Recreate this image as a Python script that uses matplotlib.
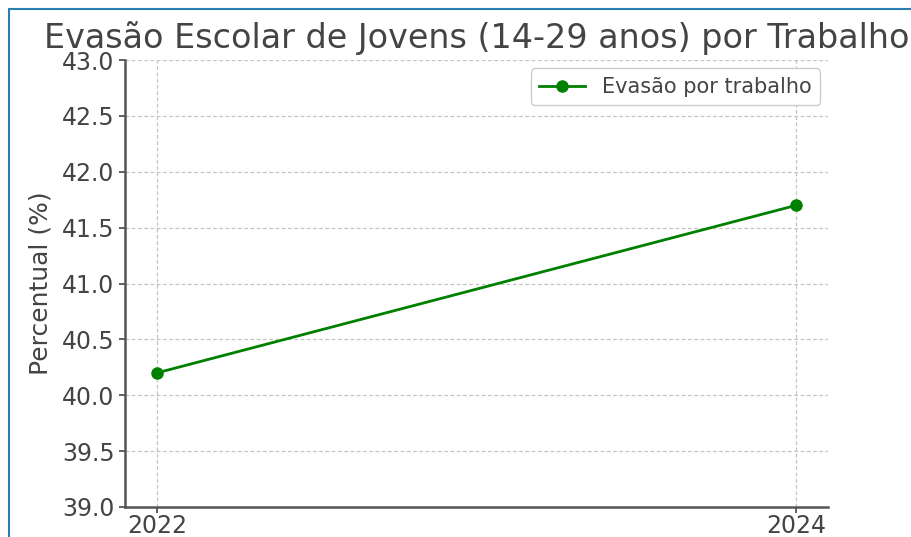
import matplotlib
matplotlib.use("Agg")
import matplotlib.pyplot as plt
from matplotlib.patches import Rectangle

# data
anos = [2022, 2024]
evasao = [40.2, 41.7]
serie_label = "Evasão por trabalho"
titulo = "Evasão Escolar de Jovens (14-29 anos) por Trabalho"

texto = "#444444"

fig = plt.figure(figsize=(9.12, 5.37), dpi=100)
ax = fig.add_axes([0.137, 0.056, 0.771, 0.832])

ax.plot(anos, evasao, marker="o", color="green", linewidth=2, markersize=8,
        label=serie_label)

ax.set_ylim(39, 43)
ax.set_xticks(anos)
ax.set_xticklabels([str(a) for a in anos])
ax.set_yticks([39.0, 39.5, 40.0, 40.5, 41.0, 41.5, 42.0, 42.5, 43.0])

ax.set_title(titulo, fontsize=24, color=texto, pad=9)
ax.set_ylabel("Percentual (%)", fontsize=18, color=texto, labelpad=7)
ax.tick_params(labelsize=17, colors=texto, length=4, width=1.2)
ax.tick_params(axis="x", pad=1)

ax.grid(True, linestyle=(0, (3, 2)), color="#c4c4c4", linewidth=0.9)
for s in ["top", "right"]:
    ax.spines[s].set_visible(False)
for s in ["left", "bottom"]:
    ax.spines[s].set_color("#555555")
    ax.spines[s].set_linewidth(1.8)

leg = ax.legend(loc="upper right", fontsize=15, framealpha=1,
                borderaxespad=0.4, handlelength=2.2)
for t in leg.get_texts():
    t.set_color(texto)

# blue screenshot frame
fig.add_artist(Rectangle((0.0099, -0.1), 1.2, 1.083, transform=fig.transFigure,
                         fill=False, edgecolor="#2a7fb0", linewidth=1.5))

fig.savefig("out.png", dpi=100)
